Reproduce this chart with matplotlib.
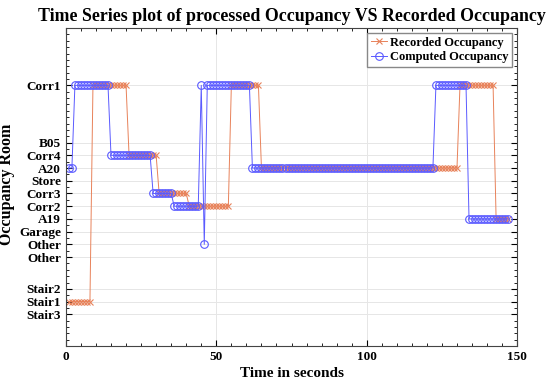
import matplotlib
matplotlib.use('Agg')
import matplotlib.pyplot as plt
import numpy as np

# y positions of the rooms (as on the reference axis)
room_labels = ['Stair3', 'Stair1', 'Stair2', 'Other', 'Other', 'Garage', 'A19', 'Corr2',
               'Corr3', 'Store', 'A20', 'Corr4', 'B05', 'Corr1']
room_levels = [2.5, 3.5, 4.5, 7, 8, 9, 10, 11, 12, 13, 14, 15, 16, 20.5]

# runs of (room level, number of 1 s samples)
recorded_levels = [3.5, 20.5, 15, 12, 11, 20.5, 14, 20.5, 10]
recorded_counts = [8, 12, 10, 10, 14, 10, 66, 12, 5]

computed_levels = [14, 20.5, 15, 12, 11, 20.5, 8, 20.5, 14, 20.5, 10]
computed_counts = [2, 12, 14, 7, 9, 1, 1, 15, 61, 11, 14]

recorded = np.repeat(recorded_levels, recorded_counts)
computed = np.repeat(computed_levels, computed_counts)
t = np.arange(1, len(recorded) + 1)

plt.rcParams['font.family'] = 'Liberation Serif'
plt.rcParams['font.weight'] = 'bold'

fig = plt.figure(figsize=(5.49, 3.85), dpi=100)
ax = fig.add_axes([0.120, 0.101, 0.822, 0.826])

ax.plot(t, recorded, '-x', color='#E8825A', lw=0.7, ms=4.5, mew=0.8,
        label='Recorded Occupancy')
ax.plot(t, computed, '-o', color='#5A5AFF', lw=0.7, ms=5.5, mew=0.8,
        mfc='none', label='Computed Occupancy')

ax.set_xlim(0, 150)
ax.set_ylim(0, 25)
ax.set_xticks([0, 50, 100, 150])
ax.set_xticks(np.arange(0, 151, 5), minor=True)
ax.set_yticks(room_levels)
ax.set_yticklabels(room_labels)
ax.set_yticks(np.arange(0, 25.1, 0.5), minor=True)
ax.tick_params(which='both', direction='in', top=True, right=True, labelsize=9.5)
ax.tick_params(which='major', length=4)
ax.tick_params(which='minor', length=2)
ax.grid(True, which='major', color='#e6e6e6', lw=0.7)
ax.set_axisbelow(True)
for s in ax.spines.values():
    s.set_color('#444444')
    s.set_linewidth(0.8)

ax.set_xlabel('Time in seconds', fontsize=11, fontweight='bold', labelpad=3)
ax.set_ylabel('Occupancy Room', fontsize=11.5, fontweight='bold')
ax.yaxis.set_label_coords(-0.112, 0.51)
ax.set_title('Time Series plot of processed Occupancy VS Recorded Occupancy',
             fontsize=12.9, fontweight='bold', pad=5)
leg = ax.legend(loc='upper right', fontsize=9, handlelength=1.3, handletextpad=0.2,
                borderpad=0.3, labelspacing=0.2, fancybox=False, framealpha=1,
                borderaxespad=0.4)
leg.get_frame().set_edgecolor('#888888')

fig.savefig('out.png', dpi=100)
